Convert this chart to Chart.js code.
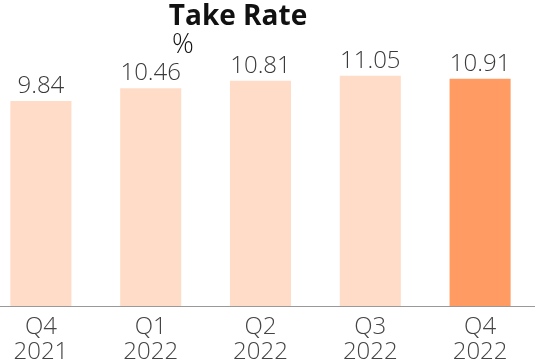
<!DOCTYPE html>
<html>
<head>
<meta charset="utf-8">
<script src="https://cdn.jsdelivr.net/npm/chart.js@4/dist/chart.umd.min.js"></script>
<style>
    html, body { margin: 0; padding: 0; background: #fff; overflow: hidden; }
    #wrap { position: relative; width: 549px; height: 374px; margin-left: -14px; }
</style>
</head>
<body>
<div id="wrap"><canvas id="grafico"></canvas></div>
<script>
/* ============================
   DADOS
============================ */

const trimestres = [["Q4", "2021"], ["Q1", "2022"], ["Q2", "2022"], ["Q3", "2022"], ["Q4", "2022"]];
const takeRate = [9.84, 10.46, 10.81, 11.05, 10.91];
const destaque = [false, false, false, false, true];

const titulo = "Take Rate";
const unidade = "%";

/* ============================
   PLUGIN: TITULO + ROTULOS
============================ */

const textos = {
    id: "textos",
    afterDatasetsDraw(chart) {
        const ctx = chart.ctx;
        ctx.save();

        // titulo e unidade (deslocados para a esquerda como no original)
        ctx.fillStyle = "#111";
        ctx.textAlign = "center";
        ctx.textBaseline = "alphabetic";
        ctx.font = "bold 28px 'Open Sans'";
        ctx.fillText(titulo, 238 + 14, 25);
        ctx.font = "300 27px 'Open Sans'";
        ctx.fillText(unidade, 183 + 14, 53);

        // valores em cima das barras
        ctx.fillStyle = "#3a3a3a";
        ctx.font = "300 24px 'Open Sans'";
        const meta = chart.getDatasetMeta(0);
        meta.data.forEach((bar, i) => {
            ctx.fillText(takeRate[i].toFixed(2), bar.x, bar.y - 8);
        });

        ctx.restore();
    }
};

/* ============================
   GRAFICO
============================ */

new Chart(document.getElementById("grafico"), {
    type: "bar",
    data: {
        labels: trimestres,
        datasets: [{
            data: takeRate,
            backgroundColor: destaque.map(d => d ? "#FF9B63" : "#FFDCC8"),
            borderWidth: 0,
            categoryPercentage: 1,
            barPercentage: 0.556
        }]
    },
    options: {
        responsive: true,
        maintainAspectRatio: false,
        animation: false,
        layout: { padding: 0 },
        plugins: {
            legend: { display: false },
            tooltip: { enabled: false },
            title: { display: false }
        },
        scales: {
            x: {
                grid: { display: true, drawOnChartArea: false, drawTicks: false },
                border: { display: true, color: "#999", width: 1 },
                ticks: {
                    color: "#444",
                    padding: 9,
                    font: { family: "'Open Sans'", size: 24, weight: "300", lineHeight: 1.04 }
                }
            },
            y: {
                display: false,
                min: 0,
                max: 14.69
            }
        }
    },
    plugins: [textos]
});
</script>
</body>
</html>
